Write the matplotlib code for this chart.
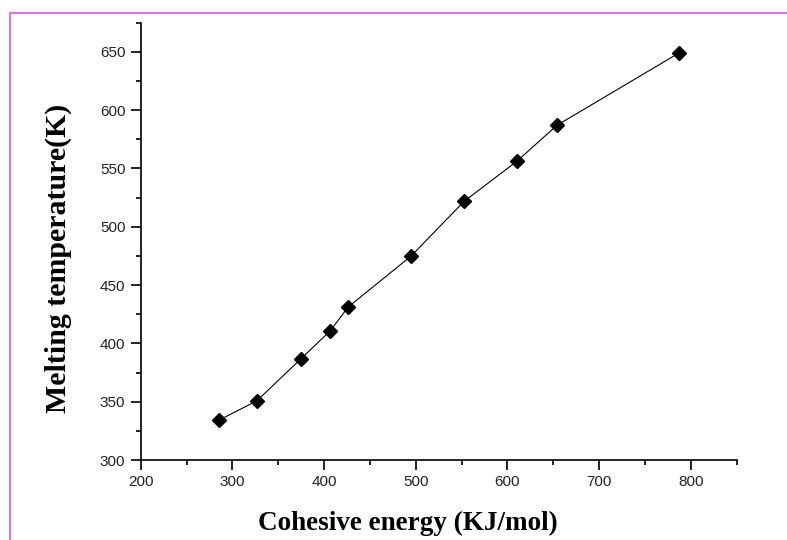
import matplotlib
matplotlib.use("Agg")
import matplotlib.pyplot as plt
from matplotlib.lines import Line2D
from matplotlib.ticker import MultipleLocator

cohesive_energy = [285, 327, 375, 407, 426, 495, 553, 610, 654, 787]
melting_temp = [334, 351, 387, 411, 431, 475, 522, 556, 587, 649]

x_ticks = [200, 300, 400, 500, 600, 700, 800]
y_ticks = [300, 350, 400, 450, 500, 550, 600, 650]

fig = plt.figure(figsize=(7.87, 5.40), dpi=100)
ax = fig.add_axes([0.1788, 0.148, 0.936 - 0.1788, 0.958 - 0.148])

ax.plot(cohesive_energy, melting_temp, color="black", linewidth=0.8,
        marker="D", markersize=7.5, markerfacecolor="black", markeredgecolor="black")

ax.set_xlim(200, 850)
ax.set_ylim(300, 675)
ax.set_xticks(x_ticks)
ax.set_yticks(y_ticks)
ax.xaxis.set_minor_locator(MultipleLocator(50))
ax.yaxis.set_minor_locator(MultipleLocator(25))

for s in ["top", "right"]:
    ax.spines[s].set_visible(False)
for s in ["left", "bottom"]:
    ax.spines[s].set_linewidth(1.2)

ax.tick_params(which="major", direction="out", length=7, width=1.2, labelsize=11,
               colors="black", pad=4)
ax.tick_params(which="minor", direction="out", length=3.5, width=1.2)
for lab in ax.get_xticklabels() + ax.get_yticklabels():
    lab.set_fontfamily("Liberation Sans")
    lab.set_color("#222222")

ax.set_xlabel("Cohesive energy (KJ/mol)", fontfamily="Liberation Serif",
              fontweight="bold", fontsize=19.5)
ax.set_ylabel("Melting temperature(K)", fontfamily="Liberation Serif",
              fontweight="bold", fontsize=21.5)
ax.xaxis.set_label_coords(0.4477, -0.116)
ax.yaxis.set_label_coords(-0.115, 0.462)

# violet frame lines (top and left)
border_color = "#d774e6"
fig.add_artist(Line2D([10 / 787, 10 / 787], [0, 1 - 13 / 540], transform=fig.transFigure,
                      color=border_color, linewidth=1.5))
fig.add_artist(Line2D([10 / 787, 1], [1 - 13 / 540, 1 - 13 / 540], transform=fig.transFigure,
                      color=border_color, linewidth=1.5))

fig.savefig("out.png", dpi=100)
